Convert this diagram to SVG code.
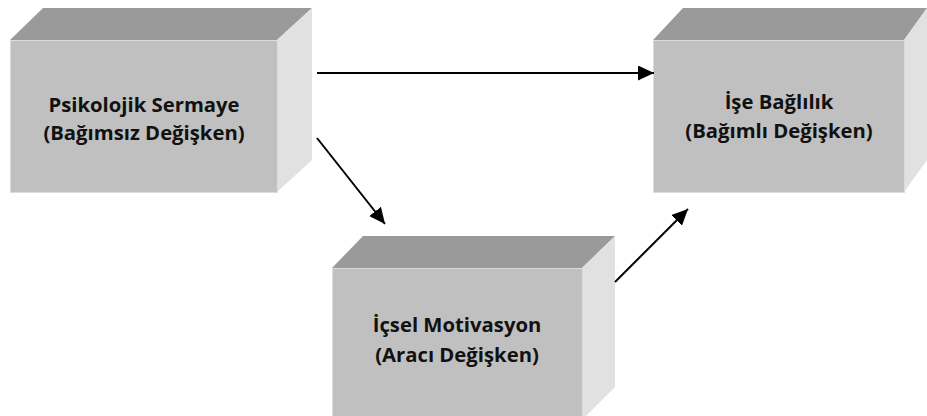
<svg xmlns="http://www.w3.org/2000/svg" width="927" height="416" viewBox="0 0 927 416">
<style>
.front{fill:#c0c0c0;stroke:#dcdcdc;stroke-width:1}
.top{fill:#9a9a9a}
.side{fill:#e1e1e1}
.lbl{font-family:"Open Sans","Liberation Sans",sans-serif;font-weight:bold;font-size:20.3px;fill:#111;text-anchor:middle}
.conn{stroke:#000;stroke-width:2;fill:none}
</style>
<defs>
<marker id="ah2" markerWidth="16" markerHeight="15" refX="16" refY="7.5" orient="auto" markerUnits="userSpaceOnUse" viewBox="0 0 16 15">
<path d="M0,0 L16,7.5 L0,15 z" fill="#000"/>
</marker>
</defs>
<g id="node-psikolojik">
<polygon class="top" points="10,40 43,8 312,8 277,40"/>
<polygon class="side" points="277,40 312,8 312,160 277,192"/>
<rect class="front" x="10.5" y="40.5" width="267" height="152"/>
<text class="lbl" x="144" y="112">Psikolojik Sermaye</text>
<text class="lbl" x="144" y="140">(Bağımsız Değişken)</text>
</g>
<g id="node-ise">
<polygon class="top" points="653,40 683,8 927,8 904,40"/>
<polygon class="side" points="904,40 927,8 927,160 904,192"/>
<rect class="front" x="653.5" y="40.5" width="251" height="152"/>
<text class="lbl" x="779" y="109">İşe Bağlılık</text>
<text class="lbl" x="779" y="138">(Bağımlı Değişken)</text>
</g>
<g id="node-icsel">
<polygon class="top" points="332,268 363,236 615,236 582,268"/>
<polygon class="side" points="582,268 615,236 615,387 582,420"/>
<rect class="front" x="332.5" y="268.5" width="250" height="160"/>
<text class="lbl" x="457" y="332">İçsel Motivasyon</text>
<text class="lbl" x="457" y="362">(Aracı Değişken)</text>
</g>
<g id="connectors">
<line class="conn" x1="317" y1="73" x2="654" y2="73" marker-end="url(#ah2)"/>
<line class="conn" x1="317" y1="138" x2="385" y2="224" marker-end="url(#ah2)"/>
<line class="conn" x1="615" y1="282" x2="688" y2="209" marker-end="url(#ah2)"/>
</g>
</svg>
